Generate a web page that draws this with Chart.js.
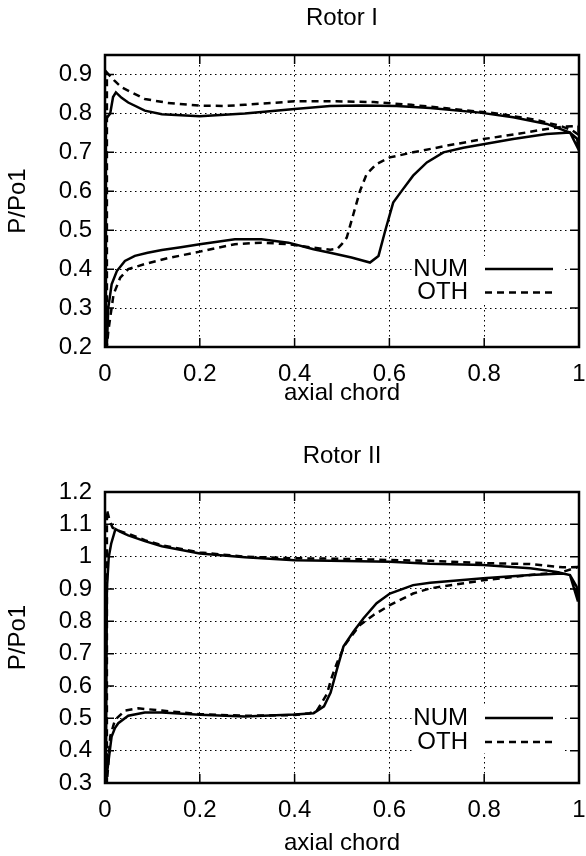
<!DOCTYPE html>
<html>
<head>
<meta charset="utf-8">
<script src="https://cdn.jsdelivr.net/npm/chart.js@4.4.1/dist/chart.umd.min.js"></script>
<style>
  html, body { margin: 0; padding: 0; background: #fff; }
  body { width: 586px; height: 856px; position: relative; overflow: hidden; }
  #c1 { position: absolute; left: 0; top: 0; }
  #c2 { position: absolute; left: 0; top: 428px; }
</style>
</head>
<body>
<canvas id="c1" width="586" height="420"></canvas>
<canvas id="c2" width="586" height="430"></canvas>
<script>
// axis ticks
const xTicks = [0, 0.2, 0.4, 0.6, 0.8, 1];
const yTicks1 = [0.2, 0.3, 0.4, 0.5, 0.6, 0.7, 0.8, 0.9];
const yTicks2 = [0.3, 0.4, 0.5, 0.6, 0.7, 0.8, 0.9, 1.0, 1.1, 1.2];

// Rotor I - NUM (pressure side TE->LE, then suction side LE->TE)
const rotor1NumX = [1.0, 0.996, 0.981, 0.932, 0.861, 0.791, 0.686, 0.615, 0.540, 0.475, 0.400, 0.295, 0.200, 0.120, 0.084, 0.049, 0.035, 0.023, 0.017, 0.011, 0.005, 0.002,
  0.002, 0.004, 0.007, 0.014, 0.025, 0.042, 0.063, 0.090, 0.120, 0.160, 0.200, 0.274, 0.330, 0.387, 0.440, 0.475, 0.520, 0.559, 0.577, 0.591, 0.608, 0.626, 0.650, 0.679, 0.714, 0.756, 0.798, 0.861, 0.932, 0.981, 1.0];
const rotor1NumY = [0.705, 0.735, 0.751, 0.773, 0.790, 0.802, 0.814, 0.819, 0.820, 0.819, 0.811, 0.800, 0.793, 0.798, 0.807, 0.828, 0.840, 0.854, 0.842, 0.800, 0.790, 0.785,
  0.200, 0.207, 0.301, 0.361, 0.395, 0.421, 0.434, 0.442, 0.449, 0.456, 0.464, 0.477, 0.477, 0.468, 0.451, 0.442, 0.430, 0.417, 0.434, 0.498, 0.571, 0.601, 0.640, 0.674, 0.700, 0.712, 0.721, 0.734, 0.747, 0.751, 0.705];

// Rotor I - OTH
const rotor1OthX = [0.999, 0.985, 0.960, 0.911, 0.826, 0.721, 0.646, 0.567, 0.488, 0.400, 0.295, 0.250, 0.200, 0.132, 0.084, 0.053, 0.035, 0.020, 0.007, 0.004,
  0.004, 0.007, 0.018, 0.032, 0.049, 0.084, 0.132, 0.200, 0.274, 0.330, 0.387, 0.440, 0.475, 0.490, 0.500, 0.510, 0.524, 0.538, 0.552, 0.573, 0.601, 0.650, 0.721, 0.798, 0.869, 0.932, 0.967, 0.999, 0.999];
const rotor1OthY = [0.745, 0.757, 0.768, 0.783, 0.800, 0.813, 0.822, 0.829, 0.831, 0.831, 0.822, 0.819, 0.820, 0.827, 0.837, 0.856, 0.867, 0.884, 0.901, 0.905,
  0.200, 0.241, 0.335, 0.378, 0.400, 0.413, 0.428, 0.445, 0.464, 0.468, 0.464, 0.455, 0.450, 0.452, 0.465, 0.481, 0.541, 0.601, 0.644, 0.670, 0.687, 0.700, 0.717, 0.734, 0.747, 0.760, 0.766, 0.768, 0.745];

// Rotor II - NUM
const rotor2NumX = [0.998, 0.995, 0.981, 0.953, 0.897, 0.798, 0.686, 0.601, 0.475, 0.400, 0.295, 0.200, 0.120, 0.084, 0.049, 0.035, 0.022, 0.013, 0.008, 0.004, 0.002,
  0.004, 0.007, 0.011, 0.014, 0.021, 0.028, 0.049, 0.084, 0.120, 0.200, 0.295, 0.400, 0.440, 0.462, 0.476, 0.489, 0.503, 0.524, 0.545, 0.573, 0.601, 0.650, 0.686, 0.798, 0.897, 0.966, 0.981, 0.998];
const rotor2NumY = [0.861, 0.907, 0.943, 0.953, 0.964, 0.974, 0.978, 0.984, 0.987, 0.989, 0.998, 1.010, 1.032, 1.048, 1.066, 1.075, 1.085, 1.040, 1.000, 0.900, 0.300,
  0.330, 0.362, 0.410, 0.444, 0.470, 0.485, 0.508, 0.518, 0.518, 0.511, 0.506, 0.512, 0.516, 0.537, 0.580, 0.650, 0.722, 0.768, 0.809, 0.856, 0.886, 0.912, 0.919, 0.933, 0.943, 0.948, 0.943, 0.861];

// Rotor II - OTH
const rotor2OthX = [0.998, 0.966, 0.897, 0.798, 0.686, 0.475, 0.400, 0.295, 0.200, 0.120, 0.084, 0.049, 0.024, 0.016, 0.010, 0.004,
  0.004, 0.008, 0.011, 0.021, 0.042, 0.070, 0.120, 0.200, 0.295, 0.400, 0.432, 0.448, 0.468, 0.478, 0.489, 0.506, 0.538, 0.566, 0.601, 0.650, 0.686, 0.798, 0.897, 0.966, 0.998];
const rotor2OthY = [0.968, 0.967, 0.977, 0.980, 0.987, 0.994, 0.995, 1.000, 1.013, 1.035, 1.051, 1.071, 1.082, 1.090, 1.110, 1.145,
  0.300, 0.380, 0.444, 0.495, 0.524, 0.531, 0.524, 0.513, 0.508, 0.510, 0.516, 0.526, 0.575, 0.625, 0.670, 0.727, 0.789, 0.819, 0.850, 0.886, 0.902, 0.927, 0.943, 0.953, 0.968];

Chart.defaults.font.family = '"Liberation Sans", Arial, sans-serif';
Chart.defaults.color = '#000';

const FONT = 24;

function pts(xs, ys) {
  return xs.map((v, i) => ({x: v, y: ys[i]}));
}

// gnuplot style: frame, inward ticks on all sides, key with white box
const gnuFrame = {
  id: 'gnuFrame',
  beforeDatasetsDraw(chart, args, opts) {
    const {ctx, chartArea: a} = chart;
    const rowY = a.bottom - opts.keyBottom;
    const lineEnd = a.right - 26;
    const lineStart = lineEnd - 68;
    const textRight = lineStart - 17;
    ctx.save();
    ctx.fillStyle = '#fff';
    ctx.fillRect(textRight - 56, rowY - 13, lineEnd + 10 - (textRight - 56), 48);
    ctx.font = FONT + 'px "Liberation Sans", Arial, sans-serif';
    ctx.textAlign = 'right';
    ctx.textBaseline = 'middle';
    chart.data.datasets.forEach((ds, i) => {
      const y = rowY + i * opts.keyStep;
      ctx.fillStyle = '#000';
      ctx.fillText(ds.label, textRight, y);
      ctx.beginPath();
      ctx.setLineDash(ds.borderDash || []);
      ctx.lineWidth = ds.borderWidth;
      ctx.strokeStyle = ds.borderColor;
      ctx.moveTo(lineStart, y);
      ctx.lineTo(lineEnd, y);
      ctx.stroke();
    });
    ctx.restore();
  },
  afterDatasetsDraw(chart) {
    const {ctx, chartArea: a, scales} = chart;
    ctx.save();
    ctx.strokeStyle = '#000';
    ctx.setLineDash([]);
    ctx.lineWidth = 1.5;
    ctx.beginPath();
    scales.x.ticks.forEach(t => {
      const px = scales.x.getPixelForValue(t.value);
      ctx.moveTo(px, a.bottom); ctx.lineTo(px, a.bottom - 9);
      ctx.moveTo(px, a.top); ctx.lineTo(px, a.top + 9);
    });
    scales.y.ticks.forEach(t => {
      const py = scales.y.getPixelForValue(t.value);
      ctx.moveTo(a.left, py); ctx.lineTo(a.left + 9, py);
      ctx.moveTo(a.right, py); ctx.lineTo(a.right - 9, py);
    });
    ctx.stroke();
    ctx.lineWidth = 2.5;
    ctx.strokeRect(a.left, a.top, a.right - a.left, a.bottom - a.top);
    ctx.restore();
  }
};

function makeConfig(title, numX, numY, othX, othY, yMin, yMax, yTicks, lay) {
  return {
    type: 'line',
    data: {
      datasets: [
        {label: 'NUM', data: pts(numX, numY), borderColor: '#000', borderWidth: 2.5, pointRadius: 0, tension: 0, fill: false},
        {label: 'OTH', data: pts(othX, othY), borderColor: '#000', borderWidth: 2.5, borderDash: [7, 5], pointRadius: 0, tension: 0, fill: false}
      ]
    },
    options: {
      responsive: false,
      animation: false,
      layout: {padding: {left: 0, right: 7, top: 0, bottom: lay.padBottom}},
      plugins: {
        legend: {display: false},
        tooltip: {enabled: false},
        title: {
          display: true,
          fullSize: false,
          text: title,
          color: '#000',
          font: {size: FONT, weight: 'normal'},
          padding: {top: lay.titleTop, bottom: lay.titleBottom}
        },
        gnuFrame: {keyBottom: lay.keyBottom, keyStep: lay.keyStep}
      },
      scales: {
        x: {
          type: 'linear',
          min: 0,
          max: 1,
          afterBuildTicks: s => { s.ticks = xTicks.map(v => ({value: v})); },
          afterFit: s => { s.height = lay.xHeight; s.paddingLeft = 0; s.paddingRight = 0; },
          grid: {color: '#000', lineWidth: 1, drawTicks: false},
          border: {display: false, dash: [1.5, 3.5]},
          ticks: {padding: 13, font: {size: FONT}, color: '#000', maxRotation: 0,
            callback: v => String(+v.toFixed(2))},
          title: {display: true, text: 'axial chord', font: {size: FONT}, color: '#000', padding: {top: 0, bottom: 0}}
        },
        y: {
          type: 'linear',
          min: yMin,
          max: yMax,
          afterBuildTicks: s => { s.ticks = yTicks.map(v => ({value: v})); },
          afterFit: s => { s.width = 105; },
          grid: {color: '#000', lineWidth: 1, drawTicks: false},
          border: {display: false, dash: [1.5, 3.5]},
          ticks: {padding: 13, font: {size: FONT}, color: '#000',
            callback: v => String(+v.toFixed(2))},
          title: {display: true, text: 'P/Po1', font: {size: FONT}, color: '#000', padding: {top: 3.6, bottom: 0}}
        }
      }
    },
    plugins: [gnuFrame]
  };
}

new Chart(
  document.getElementById('c1'),
  makeConfig('Rotor I', rotor1NumX, rotor1NumY, rotor1OthX, rotor1OthY, 0.2, 0.95, yTicks1,
    {padBottom: 12, titleTop: 4.3, titleBottom: 21.9, xHeight: 61, keyBottom: 78, keyStep: 23.5})
);
new Chart(
  document.getElementById('c2'),
  makeConfig('Rotor II', rotor2NumX, rotor2NumY, rotor2OthX, rotor2OthY, 0.3, 1.2, yTicks2,
    {padBottom: 0, titleTop: 14.3, titleBottom: 20.9, xHeight: 75, keyBottom: 65, keyStep: 24})
);
</script>
</body>
</html>
